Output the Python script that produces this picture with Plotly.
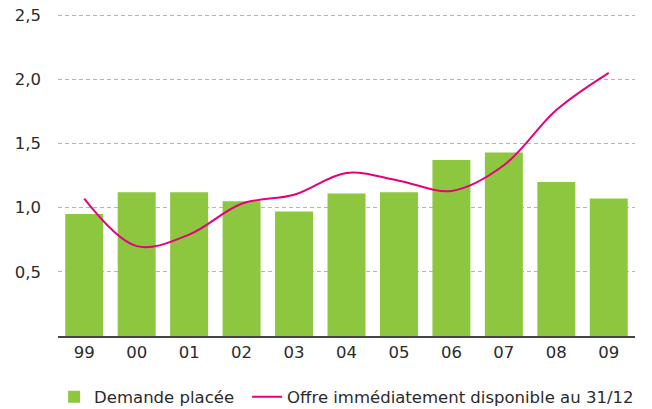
import plotly.graph_objects as go

years = ["99", "00", "01", "02", "03", "04", "05", "06", "07", "08", "09"]
demande = [0.95, 1.12, 1.12, 1.05, 0.97, 1.11, 1.12, 1.37, 1.43, 1.20, 1.07]
offre = [1.07, 0.70, 0.79, 1.03, 1.10, 1.27, 1.21, 1.13, 1.33, 1.76, 2.05]
y_ticks = [0.5, 1.0, 1.5, 2.0, 2.5]

font_family = "'DejaVu Sans', sans-serif"
text_color = "#2b2b2b"

fig = go.Figure()
fig.add_trace(go.Bar(
    x=years, y=demande, name="Demande placée",
    marker=dict(color="#8dc63f", line=dict(width=0)),
    legend="legend",
))
fig.add_trace(go.Scatter(
    x=years, y=offre, name="Offre immédiatement disponible au 31/12",
    mode="lines", line=dict(color="#e6007e", width=2, shape="spline", smoothing=1.0),
    legend="legend2",
))

legend_common = dict(orientation="h", xanchor="left", yref="container", xref="container",
                     y=0.029, yanchor="middle",
                     font=dict(size=16.5, color=text_color), itemwidth=30,
                     bgcolor="rgba(0,0,0,0)")

fig.update_layout(
    width=652, height=409,
    margin=dict(l=58, r=17, t=14, b=73),
    paper_bgcolor="white", plot_bgcolor="white",
    bargap=0.276,
    font=dict(family=font_family, size=16.5, color=text_color),
    showlegend=True,
    legend=dict(x=0.083, **legend_common),
    legend2=dict(x=0.379, **legend_common),
    xaxis=dict(
        type="category", showgrid=False, ticks="", tickfont=dict(size=16.5),
        showline=True, linecolor="#444444", linewidth=1.5,
        automargin=False,
    ),
    yaxis=dict(
        range=[0, 2.508], tickvals=y_ticks, tickformat=".1f",
        showgrid=True, gridcolor="#b5b5b5", griddash="4px,3px", gridwidth=1,
        zeroline=False, showline=False, ticks="", ticklabelstandoff=16,
        tickfont=dict(size=16.5), automargin=False,
    ),
    separators=", ",
)

fig.write_html(
    "out.html",
    config={"displayModeBar": False},
    post_script="document.body.style.margin='0';document.body.style.padding='0';document.body.style.overflow='hidden';",
)
